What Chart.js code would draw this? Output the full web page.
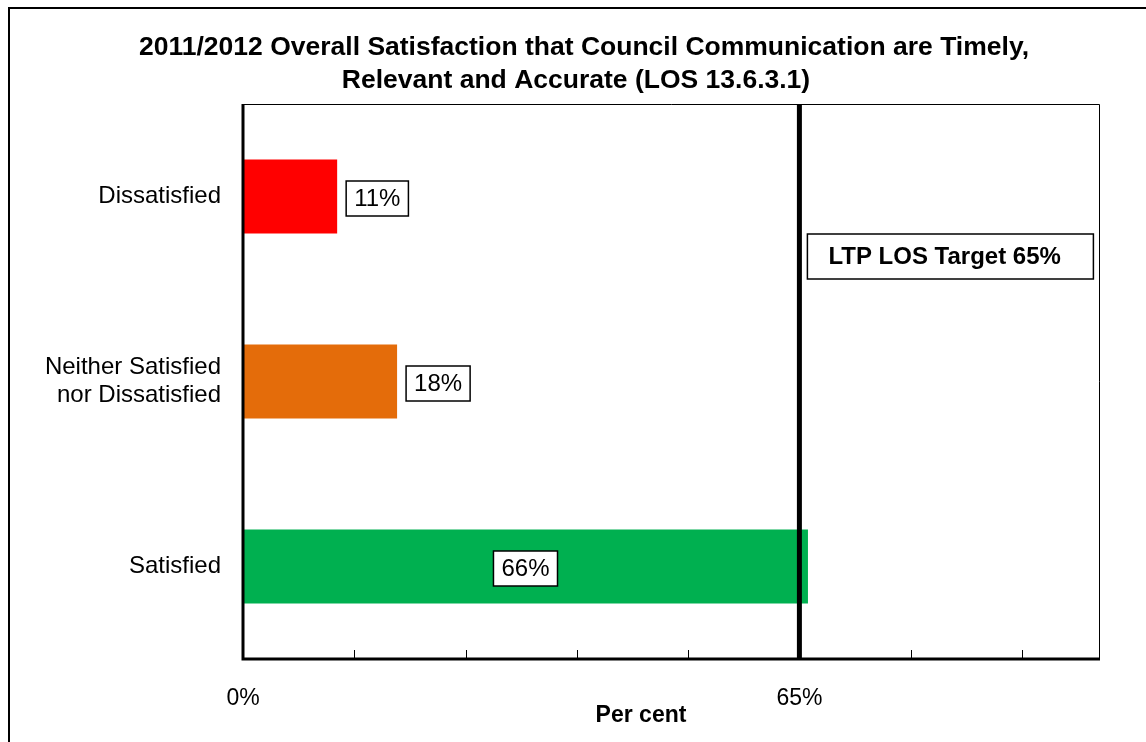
<!DOCTYPE html>
<html lang="en">

<head>
    <meta charset="UTF-8">
    <title>Council Communication Satisfaction</title>
    <script src="https://cdn.jsdelivr.net/npm/chart.js"></script>
    <style>
        body { margin: 0; background: #fff; }
        #wrap { width: 1146px; height: 742px; position: relative; }
    </style>
</head>

<body>
    <div id="wrap">
        <canvas id="chart"></canvas>
    </div>

    <script>
        const categories = ['Dissatisfied', ['Neither Satisfied', 'nor Dissatisfied'], 'Satisfied'];
        const percentValues = [11, 18, 66];
        const barColors = ['#ff0000', '#e46c0a', '#00b050'];
        const targetValue = 65;
        const targetLabel = 'LTP LOS Target 65%';
        const labelledTicks = [0, 65];
        const titleLines = ['2011/2012 Overall Satisfaction that Council Communication are Timely,',
            'Relevant and Accurate (LOS 13.6.3.1)'];

        const FONT = '"Liberation Sans", Arial, sans-serif';

        // frame, title, target line, value boxes
        const decorations = {
            id: 'decorations',
            beforeDraw(chart) {
                const ctx = chart.ctx;
                ctx.save();
                ctx.fillStyle = '#fff';
                ctx.fillRect(0, 0, chart.width, chart.height);
                ctx.strokeStyle = '#000';
                ctx.lineWidth = 2;
                ctx.strokeRect(9, 8, chart.width + 20, chart.height + 20);

                ctx.fillStyle = '#000';
                ctx.font = 'bold 26.5px ' + FONT;
                ctx.textAlign = 'center';
                ctx.textBaseline = 'middle';
                ctx.fillText(titleLines[0], 584, 48);
                ctx.fillText(titleLines[1], 576, 81);
                ctx.restore();
            },
            afterDatasetsDraw(chart) {
                const ctx = chart.ctx;
                const area = chart.chartArea;
                const x = chart.scales.x;
                ctx.save();

                // inward tick marks
                ctx.strokeStyle = '#000';
                ctx.lineWidth = 1;
                x.ticks.forEach(t => {
                    if (t.value <= 0 || t.value >= x.max) return;
                    const px = Math.round(x.getPixelForValue(t.value)) + 0.5;
                    ctx.beginPath();
                    ctx.moveTo(px, area.bottom);
                    ctx.lineTo(px, area.bottom - 9);
                    ctx.stroke();
                });

                // top and right thin frame
                ctx.beginPath();
                ctx.moveTo(area.left, area.top + 0.5);
                ctx.lineTo(area.right + 0.5, area.top + 0.5);
                ctx.lineTo(area.right + 0.5, area.bottom);
                ctx.stroke();

                // left and bottom axes
                ctx.lineWidth = 3;
                ctx.beginPath();
                ctx.moveTo(area.left, area.top);
                ctx.lineTo(area.left, area.bottom);
                ctx.lineTo(area.right + 1, area.bottom);
                ctx.stroke();

                // target line
                const tx = x.getPixelForValue(targetValue);
                ctx.lineWidth = 5;
                ctx.beginPath();
                ctx.moveTo(tx, area.top);
                ctx.lineTo(tx, area.bottom);
                ctx.stroke();

                // target label
                ctx.lineWidth = 1.5;
                ctx.fillStyle = '#fff';
                ctx.fillRect(tx + 8, 234, 286, 45);
                ctx.strokeRect(tx + 8, 234, 286, 45);
                ctx.fillStyle = '#000';
                ctx.font = 'bold 24px ' + FONT;
                ctx.textAlign = 'left';
                ctx.textBaseline = 'middle';
                ctx.fillText(targetLabel, tx + 29, 257);

                // value boxes
                ctx.font = '24px ' + FONT;
                const meta = chart.getDatasetMeta(0);
                meta.data.forEach((bar, i) => {
                    const text = percentValues[i] + '%';
                    const w = ctx.measureText(text).width + 16;
                    const h = 35;
                    let left;
                    if (i === percentValues.length - 1) {
                        left = (bar.base + bar.x) / 2 - w / 2;
                    } else {
                        left = bar.x + 9;
                    }
                    const top = bar.y - h / 2 + 2;
                    ctx.fillStyle = '#fff';
                    ctx.fillRect(left, top, w, h);
                    ctx.strokeRect(left, top, w, h);
                    ctx.fillStyle = '#000';
                    ctx.textAlign = 'center';
                    ctx.fillText(text, left + w / 2, top + h / 2 + 1);
                });

                // axis title
                ctx.font = 'bold 23px ' + FONT;
                ctx.fillText('Per cent', 641, 716);
                ctx.restore();
            }
        };

        new Chart(document.getElementById('chart'), {
            type: 'bar',
            data: {
                labels: categories,
                datasets: [{
                    data: percentValues,
                    backgroundColor: barColors,
                    borderWidth: 0,
                    barPercentage: 0.8,
                    categoryPercentage: 0.5
                }]
            },
            options: {
                indexAxis: 'y',
                responsive: true,
                maintainAspectRatio: false,
                animation: false,
                layout: { padding: { left: 0, right: 47, top: 104, bottom: 0 } },
                plugins: {
                    legend: { display: false },
                    title: { display: false },
                    tooltip: { enabled: false }
                },
                scales: {
                    x: {
                        min: 0,
                        max: 100,
                        grid: { display: false, drawTicks: false },
                        border: { display: false },
                        afterFit: scale => { scale.height = 83; },
                        ticks: {
                            stepSize: 13,
                            autoSkip: false,
                            maxRotation: 0,
                            padding: 26,
                            color: '#000',
                            font: { family: FONT, size: 23 },
                            callback: v => labelledTicks.includes(v) ? v + '%' : ''
                        }
                    },
                    y: {
                        grid: { display: false, drawTicks: false },
                        border: { display: false },
                        afterFit: scale => { scale.width = 243; },
                        ticks: {
                            padding: 22,
                            color: '#000',
                            font: { family: FONT, size: 24, lineHeight: 1.15 }
                        }
                    }
                }
            },
            plugins: [decorations]
        });
    </script>
</body>

</html>
